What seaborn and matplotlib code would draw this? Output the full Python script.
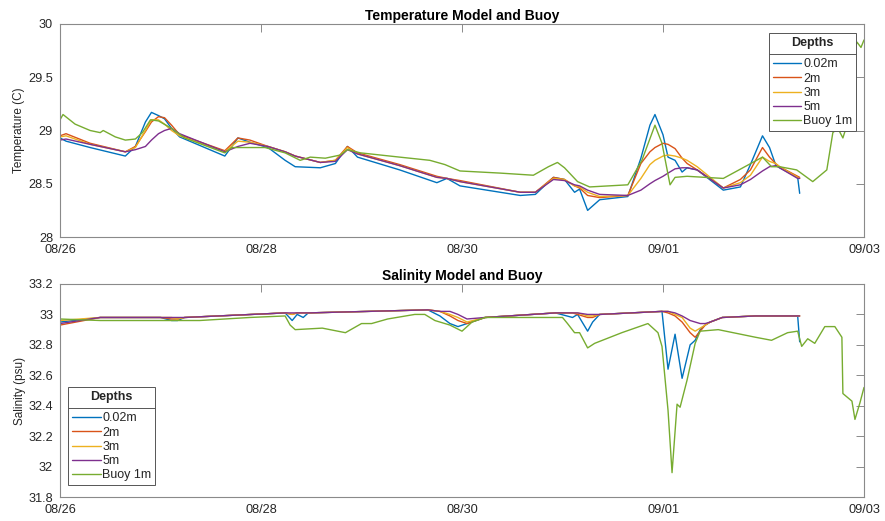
import numpy as np
import pandas as pd
import matplotlib
matplotlib.use("Agg")
import matplotlib.pyplot as plt
from matplotlib.lines import Line2D
from matplotlib.ticker import FuncFormatter
import matplotlib.dates as mdates
import seaborn as sns

# ---------------- data ----------------
start_date = "2020-08-26"
series_labels = ["0.02m", "2m", "3m", "5m", "Buoy 1m"]
series_colors = ["#0072BD", "#D95319", "#EDB120", "#7E2F8E", "#77AC30"]
x_tick_days = [0, 2, 4, 6, 8]
temp_ticks = [28, 28.5, 29, 29.5, 30]
sal_ticks = [31.8, 32.0, 32.2, 32.4, 32.6, 32.8, 33.0, 33.2]

# model temperature (days since 08/26 00:00)
model_temp_days = [0.00, 0.06, 0.30, 0.65, 0.75, 0.85, 0.91, 0.98, 1.04, 1.11,
                   1.19, 1.64, 1.77, 1.89, 2.07, 2.24, 2.34, 2.59, 2.74, 2.86,
                   2.96, 3.38, 3.75, 3.85, 3.98, 4.58, 4.73, 4.91, 5.02, 5.12,
                   5.17, 5.25, 5.37, 5.65, 5.78, 5.87, 5.92, 6.00, 6.05, 6.12,
                   6.19, 6.24, 6.34, 6.60, 6.77, 6.87, 6.99, 7.06, 7.12, 7.16,
                   7.34, 7.36]
temp_002m = [28.93, 28.90, 28.84, 28.76, 28.85, 29.08, 29.17, 29.14, 29.11, 29.02,
             28.94, 28.76, 28.93, 28.89, 28.84, 28.72, 28.66, 28.65, 28.69, 28.85,
             28.75, 28.63, 28.51, 28.55, 28.48, 28.39, 28.40, 28.56, 28.54, 28.42,
             28.45, 28.25, 28.35, 28.38, 28.74, 29.05, 29.15, 28.96, 28.75, 28.72,
             28.61, 28.65, 28.63, 28.44, 28.47, 28.68, 28.95, 28.84, 28.68, 28.65,
             28.56, 28.41]
temp_2m = [28.95, 28.97, 28.88, 28.80, 28.85, 28.99, 29.08, 29.13, 29.12, 29.05,
           28.96, 28.81, 28.93, 28.91, 28.85, 28.80, 28.76, 28.70, 28.72, 28.85,
           28.79, 28.68, 28.57, 28.55, 28.53, 28.42, 28.42, 28.56, 28.54, 28.48,
           28.46, 28.39, 28.37, 28.39, 28.69, 28.80, 28.84, 28.88, 28.87, 28.83,
           28.74, 28.69, 28.63, 28.46, 28.54, 28.63, 28.84, 28.75, 28.69, 28.66,
           28.57, 28.56]
temp_3m = [28.94, 28.95, 28.87, 28.80, 28.84, 29.00, 29.10, 29.10, 29.06, 29.00,
           28.95, 28.80, 28.90, 28.89, 28.85, 28.80, 28.76, 28.70, 28.72, 28.84,
           28.78, 28.67, 28.56, 28.55, 28.52, 28.42, 28.42, 28.55, 28.54, 28.48,
           28.47, 28.42, 28.38, 28.39, 28.55, 28.68, 28.72, 28.76, 28.77, 28.76,
           28.74, 28.72, 28.66, 28.46, 28.51, 28.58, 28.75, 28.71, 28.69, 28.66,
           28.56, 28.55]
temp_5m = [28.91, 28.92, 28.87, 28.80, 28.82, 28.85, 28.91, 28.97, 29.00, 29.02,
           28.97, 28.80, 28.85, 28.88, 28.85, 28.80, 28.76, 28.70, 28.71, 28.82,
           28.78, 28.67, 28.56, 28.55, 28.52, 28.42, 28.42, 28.54, 28.53, 28.49,
           28.48, 28.44, 28.40, 28.39, 28.44, 28.50, 28.53, 28.57, 28.60, 28.64,
           28.65, 28.65, 28.63, 28.46, 28.49, 28.54, 28.62, 28.66, 28.67, 28.65,
           28.55, 28.55]

buoy_temp_days = [0.00, 0.03, 0.15, 0.30, 0.40, 0.43, 0.55, 0.65, 0.75, 0.82,
                  0.90, 0.98, 1.11, 1.24, 1.64, 1.71, 1.89, 2.04, 2.24, 2.39,
                  2.49, 2.64, 2.79, 2.86, 2.99, 3.38, 3.68, 3.83, 3.98, 4.38,
                  4.71, 4.86, 4.95, 5.02, 5.15, 5.27, 5.65, 5.79, 5.92, 5.99,
                  6.07, 6.12, 6.24, 6.60, 6.99, 7.08, 7.16, 7.33, 7.49, 7.63,
                  7.69, 7.74, 7.79, 7.82, 7.88, 7.93, 7.97, 8.00]
buoy_temp = [29.10, 29.15, 29.06, 29.00, 28.98, 29.00, 28.94, 28.91, 28.92, 28.98,
             29.10, 29.09, 29.02, 28.93, 28.79, 28.84, 28.84, 28.84, 28.79, 28.72,
             28.75, 28.74, 28.77, 28.82, 28.79, 28.75, 28.72, 28.68, 28.62, 28.60,
             28.58, 28.66, 28.70, 28.65, 28.52, 28.47, 28.49, 28.72, 29.05, 28.88,
             28.49, 28.56, 28.57, 28.55, 28.75, 28.66, 28.66, 28.63, 28.52, 28.63,
             28.98, 29.02, 28.93, 29.02, 29.66, 29.83, 29.78, 29.85]

# model salinity
model_sal_days = [0.00, 0.40, 1.00, 1.11, 1.17, 1.24, 2.24, 2.31, 2.36, 2.42,
                  2.47, 3.66, 3.78, 3.88, 3.96, 4.05, 4.23, 4.93, 5.10, 5.15,
                  5.25, 5.30, 5.37, 5.99, 6.05, 6.12, 6.19, 6.27, 6.32, 6.37,
                  6.42, 6.47, 6.59, 6.92, 7.34, 7.36]
sal_002m = [32.95, 32.98, 32.98, 32.96, 32.96, 32.98, 33.01, 32.96, 33.00, 32.98,
            33.01, 33.03, 32.99, 32.94, 32.92, 32.94, 32.98, 33.01, 32.98, 33.00,
            32.89, 32.95, 33.00, 33.02, 32.64, 32.87, 32.58, 32.80, 32.83, 32.90,
            32.93, 32.95, 32.98, 32.99, 32.99, 32.82]
sal_2m = [32.93, 32.98, 32.98, 32.97, 32.97, 32.98, 33.01, 33.00, 33.01, 33.01,
          33.01, 33.03, 33.02, 32.99, 32.96, 32.94, 32.98, 33.01, 33.01, 33.00,
          32.98, 32.98, 33.00, 33.02, 33.01, 32.99, 32.95, 32.88, 32.85, 32.89,
          32.93, 32.95, 32.98, 32.99, 32.99, 32.99]
sal_3m = [32.96, 32.98, 32.98, 32.98, 32.97, 32.98, 33.01, 33.00, 33.01, 33.01,
          33.01, 33.03, 33.02, 33.00, 32.98, 32.95, 32.98, 33.01, 33.01, 33.01,
          32.99, 32.99, 33.00, 33.02, 33.02, 33.00, 32.98, 32.91, 32.89, 32.91,
          32.93, 32.95, 32.98, 32.99, 32.99, 32.99]
sal_5m = [32.94, 32.98, 32.98, 32.98, 32.98, 32.98, 33.01, 33.01, 33.01, 33.01,
          33.01, 33.03, 33.02, 33.02, 33.00, 32.97, 32.98, 33.01, 33.01, 33.01,
          33.00, 33.00, 33.00, 33.02, 33.02, 33.01, 32.99, 32.96, 32.95, 32.94,
          32.94, 32.95, 32.98, 32.99, 32.99, 32.99]

buoy_sal_days = [0.00, 0.40, 0.90, 1.39, 1.89, 2.24, 2.29, 2.34, 2.61, 2.84,
                 3.00, 3.10, 3.26, 3.53, 3.63, 3.73, 3.88, 4.00, 4.10, 4.23,
                 4.58, 5.00, 5.05, 5.12, 5.17, 5.25, 5.32, 5.59, 5.85, 5.95,
                 5.99, 6.05, 6.09, 6.14, 6.17, 6.24, 6.32, 6.37, 6.55, 6.92,
                 7.08, 7.24, 7.34, 7.38, 7.44, 7.51, 7.61, 7.71, 7.78, 7.79,
                 7.88, 7.91, 7.96, 8.00]
buoy_sal = [32.97, 32.96, 32.96, 32.96, 32.98, 32.99, 32.93, 32.90, 32.91, 32.88,
            32.94, 32.94, 32.97, 33.00, 33.00, 32.96, 32.93, 32.89, 32.95, 32.98,
            32.98, 32.98, 32.94, 32.88, 32.88, 32.78, 32.81, 32.88, 32.94, 32.88,
            32.79, 32.37, 31.96, 32.41, 32.39, 32.57, 32.81, 32.89, 32.90, 32.85,
            32.83, 32.88, 32.89, 32.79, 32.84, 32.81, 32.92, 32.92, 32.85, 32.48,
            32.43, 32.31, 32.42, 32.52]

# ---------------- build long tables ----------------
t0 = pd.Timestamp(start_date)


def long_frame(pairs):
    frames = []
    for label, days, vals in pairs:
        frames.append(pd.DataFrame({
            "time": t0 + pd.to_timedelta(np.asarray(days, dtype=float), unit="D"),
            "value": vals,
            "series": label,
        }))
    return pd.concat(frames, ignore_index=True)


temp_df = long_frame([
    ("0.02m", model_temp_days, temp_002m),
    ("2m", model_temp_days, temp_2m),
    ("3m", model_temp_days, temp_3m),
    ("5m", model_temp_days, temp_5m),
    ("Buoy 1m", buoy_temp_days, buoy_temp),
])
sal_df = long_frame([
    ("0.02m", model_sal_days, sal_002m),
    ("2m", model_sal_days, sal_2m),
    ("3m", model_sal_days, sal_3m),
    ("5m", model_sal_days, sal_5m),
    ("Buoy 1m", buoy_sal_days, buoy_sal),
])

# ---------------- style ----------------
sns.set_theme(style="white")
plt.rcParams["font.family"] = ["Liberation Sans", "DejaVu Sans"]
axis_grey = "#8a8a8a"
text_col = "#262626"

fig = plt.figure(figsize=(8.85, 5.21), dpi=100)
W, H = 885, 521
ax1 = fig.add_axes([60 / W, 1 - 237 / H, 804 / W, 213 / H])
ax2 = fig.add_axes([60 / W, 1 - 497 / H, 804 / W, 213 / H])

palette = dict(zip(series_labels, series_colors))

for ax, df in ((ax1, temp_df), (ax2, sal_df)):
    sns.lineplot(data=df, x="time", y="value", hue="series",
                 hue_order=series_labels, palette=palette,
                 estimator=None, linewidth=1.0, legend=False, ax=ax)

xticks = [t0 + pd.Timedelta(days=d) for d in x_tick_days]
fmt_num = FuncFormatter(lambda v, p: f"{round(v, 2):g}")
for ax in (ax1, ax2):
    ax.set_xlim(xticks[0], xticks[-1])
    ax.set_xticks(xticks)
    ax.xaxis.set_major_formatter(mdates.DateFormatter("%m/%d"))
    ax.set_xlabel("")
    for s in ax.spines.values():
        s.set_visible(True)
        s.set_color(axis_grey)
        s.set_linewidth(0.8)
    ax.tick_params(direction="in", top=True, right=True, length=5.5,
                   width=0.7, color=axis_grey, labelcolor=text_col,
                   labelsize=9.2)
    ax.tick_params(axis="x", pad=5)
    ax.tick_params(axis="y", pad=5)
    ax.yaxis.set_major_formatter(fmt_num)
    ax.grid(False)

ax1.set_ylim(28, 30)
ax1.set_yticks(temp_ticks)
ax2.set_ylim(31.8, 33.2)
ax2.set_yticks(sal_ticks)

ax1.set_ylabel("Temperature (C)", fontsize=8.5, color=text_col, labelpad=2)
ax2.set_ylabel("Salinity (psu)", fontsize=8.5, color=text_col, labelpad=2)
ax1.set_title("Temperature Model and Buoy", fontsize=10, fontweight="bold",
              color="black", pad=3)
ax2.set_title("Salinity Model and Buoy", fontsize=10, fontweight="bold",
              color="black", pad=3)

handles = [Line2D([], [], color=c, lw=1.0) for c in series_colors]


def make_legend(ax, loc, anchor):
    leg = ax.legend(handles, series_labels, title="Depths", loc=loc,
                    bbox_to_anchor=anchor, bbox_transform=fig.transFigure,
                    fontsize=9, title_fontproperties={"weight": "bold", "size": 9},
                    frameon=True, fancybox=False, framealpha=1,
                    edgecolor="#555555", borderpad=0.3, labelspacing=0.18,
                    handlelength=2.3, handletextpad=0.15, borderaxespad=0)
    leg.get_frame().set_linewidth(0.7)
    leg._legend_box.sep = 7
    for t in leg.get_texts():
        t.set_color(text_col)
    return leg


leg1 = make_legend(ax1, "upper right", (856 / W, 1 - 33 / H))
leg2 = make_legend(ax2, "upper left", (68 / W, 1 - 387 / H))

fig.canvas.draw()
renderer = fig.canvas.get_renderer()
for leg in (leg1, leg2):
    fb = leg.get_frame().get_window_extent(renderer)
    tb = leg.get_title().get_window_extent(renderer)
    first = leg.get_texts()[0].get_window_extent(renderer)
    ysep = (tb.y0 + first.y1) / 2
    fig.add_artist(Line2D([fb.x0 / W, fb.x1 / W], [ysep / H, ysep / H],
                          transform=fig.transFigure, color="#555555",
                          lw=0.7, zorder=10))

fig.savefig("out.png", dpi=100)
